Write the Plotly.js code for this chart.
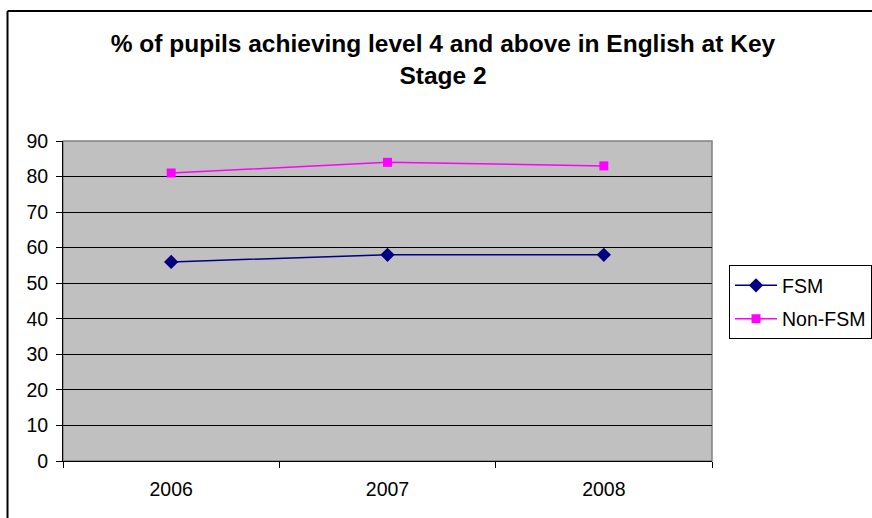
<!DOCTYPE html>
<html>
<head>
<meta charset="utf-8">
<script src="https://cdn.plot.ly/plotly-3.0.1.min.js"></script>
<style>
html,body{margin:0;padding:0;background:#fff;}
#chart{width:872px;height:518px;}
</style>
</head>
<body>
<div id="chart"></div>
<script>
var years = ['2006', '2007', '2008'];
var fsm = [56, 58, 58];
var nonFsm = [81, 84, 83];
var yTicks = [0, 10, 20, 30, 40, 50, 60, 70, 80, 90];
var titleText = '% of pupils achieving level 4 and above in English at Key<br>Stage 2';

var FONT = 'Liberation Sans, Arial, sans-serif';

var traces = [
  {
    x: years, y: fsm, name: 'FSM', type: 'scatter', mode: 'lines+markers',
    legendgroup: 'a',
    line: {color: '#000080', width: 1.5},
    marker: {symbol: 'diamond', size: 11, color: '#000080'}
  },
  {
    x: years, y: nonFsm, name: 'Non-FSM', type: 'scatter', mode: 'lines+markers',
    legendgroup: 'b',
    line: {color: '#FF00FF', width: 1.5},
    marker: {symbol: 'square', size: 9, color: '#FF00FF'}
  }
];

var layout = {
  width: 872, height: 518,
  margin: {l: 63, r: 160, t: 141, b: 57, pad: 0, autoexpand: false},
  paper_bgcolor: '#ffffff',
  plot_bgcolor: '#C0C0C0',
  font: {family: FONT, size: 19.5, color: '#000'},
  title: {
    text: titleText,
    font: {family: FONT, size: 24.5, color: '#000', weight: 'bold'},
    x: 0.508, xref: 'container', xanchor: 'center',
    y: 0.9, yref: 'container', yanchor: 'top'
  },
  xaxis: {
    type: 'category',
    range: [-0.5, 2.5],
    tickson: 'boundaries',
    ticks: 'outside', ticklen: 6, tickcolor: '#000', tickwidth: 1,
    showline: true, linecolor: '#000', linewidth: 1,
    showgrid: false, zeroline: false,
    automargin: false,
    ticklabelstandoff: 11,
    tickfont: {family: FONT, size: 19.5, color: '#000'}
  },
  yaxis: {
    range: [0, 90],
    tickvals: yTicks,
    ticks: 'outside', ticklen: 6, tickcolor: '#000', tickwidth: 1,
    showline: true, linecolor: '#000', linewidth: 1,
    showgrid: true, gridcolor: '#000', gridwidth: 1,
    zeroline: false,
    automargin: false,
    ticklabelstandoff: 4,
    tickfont: {family: FONT, size: 19.5, color: '#000'}
  },
  showlegend: true,
  legend: {
    x: 1.0262, xanchor: 'left', xref: 'paper',
    y: 0.612, yanchor: 'top', yref: 'paper',
    bgcolor: '#fff', bordercolor: '#000', borderwidth: 1,
    font: {family: FONT, size: 19.5, color: '#000'},
    traceorder: 'grouped', tracegroupgap: 5,
    itemwidth: 42
  },
  shapes: [
    {type: 'rect', xref: 'paper', yref: 'paper', x0: 0, x1: 1, y0: 0, y1: 1,
     line: {color: '#808080', width: 1.5}, layer: 'below'},
    {type: 'line', xref: 'paper', yref: 'paper', x0: -0.0855, x1: -0.0855, y0: -0.2, y1: 1.4065,
     line: {color: '#000', width: 2}},
    {type: 'line', xref: 'paper', yref: 'paper', x0: -0.0855, x1: 1.3, y0: 1.4065, y1: 1.4065,
     line: {color: '#000', width: 2}}
  ]
};

Plotly.newPlot('chart', traces, layout, {displayModeBar: false, staticPlot: true});
</script>
</body>
</html>
